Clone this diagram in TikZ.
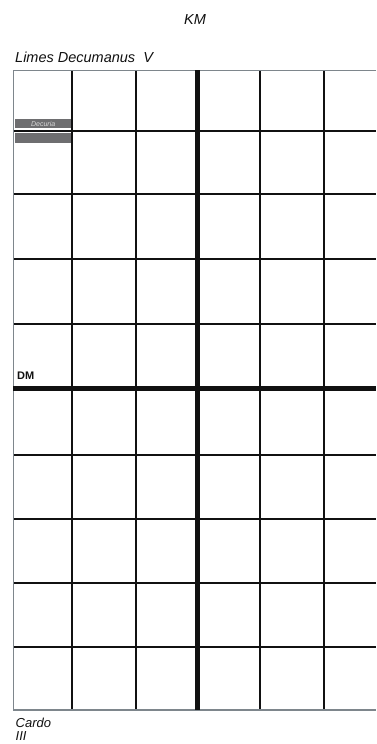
\documentclass[tikz,border=0pt]{standalone}
\usepackage{fontspec}
\setmainfont{Liberation Sans}
\usepackage{xcolor}
\definecolor{Ink}{HTML}{111111}
\definecolor{Edge}{HTML}{7E868C}
\definecolor{Band}{HTML}{6E6E70}

\begin{document}
\begin{tikzpicture}[x=1pt,y=1pt]
\useasboundingbox (0,0) rectangle (376,744);
\fill[white] (0,0) rectangle (376,744);
% labels
\node[font=\itshape\fontsize{14.5}{16}\selectfont,text=Ink] (km) at (195,724) {KM};
\node[anchor=base west,inner sep=0pt,font=\itshape\fontsize{14.5}{16}\selectfont,text=Ink] (limes) at (15,681.3) {Limes Decumanus\ \ V};
\node[anchor=base west,inner sep=0pt,font=\bfseries\fontsize{11}{12}\selectfont,text=Ink] (dm) at (17,364.7) {DM};
\node[anchor=base west,inner sep=0pt,font=\itshape\fontsize{13}{16}\selectfont,text=Ink] (cardo) at (15.5,16.5) {Cardo};
\node[anchor=base west,inner sep=0pt,font=\itshape\fontsize{13}{16}\selectfont,text=Ink] (cardonum) at (15.5,3.4) {III};
% thin grid lines
\draw[Ink,line width=2pt] (72.3,673.5) -- (72.3,34);
\draw[Ink,line width=2pt] (136.3,673.5) -- (136.3,34);
\draw[Ink,line width=2pt] (260.0,673.5) -- (260.0,34);
\draw[Ink,line width=2pt] (323.7,673.5) -- (323.7,34);
\draw[Ink,line width=2pt] (13.3,613.0) -- (376,613.0);
\draw[Ink,line width=2pt] (13.3,549.5) -- (376,549.5);
\draw[Ink,line width=2pt] (13.3,484.5) -- (376,484.5);
\draw[Ink,line width=2pt] (13.3,419.5) -- (376,419.5);
\draw[Ink,line width=2pt] (13.3,289.0) -- (376,289.0);
\draw[Ink,line width=2pt] (13.3,225.0) -- (376,225.0);
\draw[Ink,line width=2pt] (13.3,160.5) -- (376,160.5);
\draw[Ink,line width=2pt] (13.3,97.0) -- (376,97.0);
% outer edge
\draw[Edge,line width=1.6pt] (376,673.5) -- (13.3,673.5) -- (13.3,34) -- (376,34);
% main axes
\draw[Ink,line width=4.8pt] (197.3,673.5) -- (197.3,34);
\draw[Ink,line width=4.8pt] (13.3,355.5) -- (376,355.5);
% decuria strips
\node[anchor=north west,minimum width=56pt,minimum height=8.7pt,inner sep=0pt,fill=Band,font=\itshape\fontsize{7}{7}\selectfont,text=white!85!black] (decuria) at (15,625) {Decuria};
\node[anchor=north west,minimum width=56pt,minimum height=10.6pt,inner sep=0pt,fill=Band] (decurib) at (15,611.3) {};
\end{tikzpicture}
\end{document}
